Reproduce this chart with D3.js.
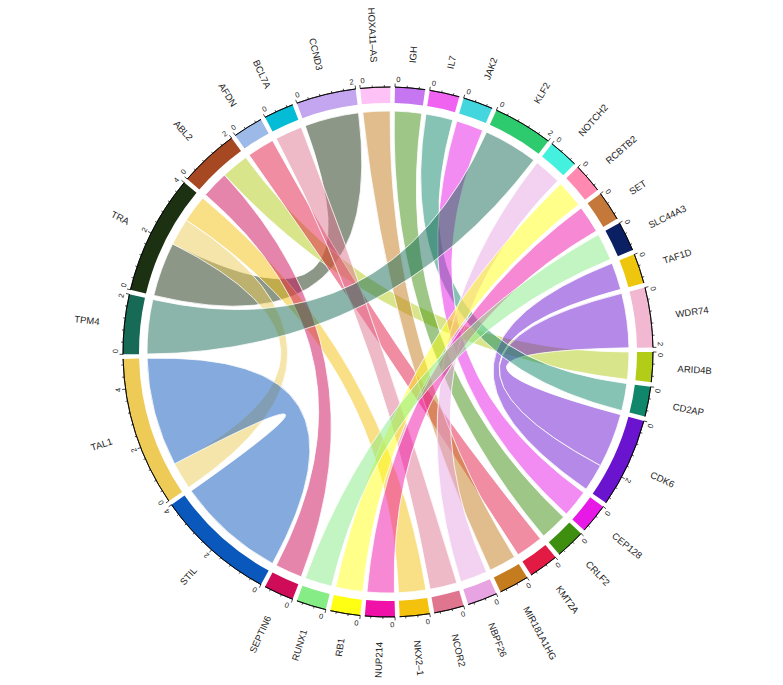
<!DOCTYPE html>
<html lang="en">
  <head>
    <meta charset="utf-8">
    <title>Gene fusion chord diagram</title>
    <script src="https://d3js.org/d3.v7.min.js"></script>
    <style>
      body { margin: 0; background: #fff; }
      .sector-label {
        font-family: "Liberation Sans", Arial, sans-serif;
        font-size: 9.5px;
        fill: #222;
      }
      .tick-label {
        font-family: "Liberation Sans", Arial, sans-serif;
        font-size: 7.5px;
        fill: #222;
      }
    </style>
  </head>
  <body>
    <svg width="783" height="685" id="chart"></svg>
    <script>
      // sectors in clockwise order, first one starts at 3 o'clock
      const sectors = ["ARID4B", "CD2AP", "CDK6", "CEP128", "CRLF2", "KMT2A", "MIR181A1HG",
        "NBPF26", "NCOR2", "NKX2\u20131", "NUP214", "RB1", "RUNX1", "SEPTIN6", "STIL", "TAL1",
        "TPM4", "TRA", "ABL2", "AFDN", "BCL7A", "CCND3", "HOXA11\u2013AS", "IGH", "IL7", "JAK2",
        "KLF2", "NOTCH2", "RCBTB2", "SET", "SLC44A3", "TAF1D", "WDR74"];

      const sectorColors = ["#B2CC17", "#10876A", "#6B14CF", "#E619E6", "#3E8F10", "#E21B45", "#C47C1E",
        "#E8A4E2", "#E07590", "#F4C20D", "#F012A8", "#FFFF14", "#86EC86", "#CE0C58", "#0B58BD", "#EDCB56",
        "#176B56", "#1C3012", "#A64822", "#9DB9E8", "#05BCD6", "#C4A6F0", "#FFC2F6", "#C676F0", "#F063F0",
        "#43D6DE", "#2ECB6E", "#44F0DE", "#FF89B0", "#C4783A", "#0B1F63", "#EFC60E", "#F2B8D2"];

      // links (chord colour = colour of the "from" sector)
      const linkFrom = ["TRA", "TAL1", "NKX2\u20131", "STIL", "SEPTIN6", "ARID4B", "CDK6", "CDK6",
        "CD2AP", "CEP128", "CRLF2", "KMT2A", "MIR181A1HG", "NBPF26", "NCOR2", "NUP214", "RB1",
        "RUNX1", "TPM4"];
      const linkTo = ["CCND3", "TRA", "TRA", "TAL1", "ABL2", "ABL2", "WDR74", "TAF1D",
        "IL7", "JAK2", "IGH", "AFDN", "HOXA11\u2013AS", "NOTCH2", "BCL7A", "SET", "RCBTB2",
        "SLC44A3", "KLF2"];
      const linkValue = [2, 1, 1, 4, 1, 1, 2, 1, 1, 1, 1, 1, 1, 1, 1, 1, 1, 1, 2];

      const cx = 388, cy = 352;
      const rOuter = 265, rInner = 249, rChord = 241, rLabel = 290;
      const gap = 1 * Math.PI / 180;

      const svg = d3.select("#chart");
      const g = svg.append("g").attr("transform", "translate(" + cx + "," + cy + ")");

      const color = d3.scaleOrdinal().domain(sectors).range(sectorColors);

      // sector sizes from the links
      const size = new Map(sectors.map(s => [s, 0]));
      linkFrom.forEach((f, i) => {
        size.set(f, size.get(f) + linkValue[i]);
        size.set(linkTo[i], size.get(linkTo[i]) + linkValue[i]);
      });
      const total = d3.sum(sectors, s => size.get(s));

      const unitScale = d3.scaleLinear()
          .domain([0, total])
          .range([0, 2 * Math.PI - sectors.length * gap]);

      // start offset (in units) for each sector
      const offset = new Map();
      let acc = 0;
      sectors.forEach(s => { offset.set(s, acc); acc += size.get(s); });

      // d3 angle: 0 at 12 o'clock, clockwise; our start is 3 o'clock
      const angle = (s, pos) => Math.PI / 2 + unitScale(offset.get(s) + pos) + sectors.indexOf(s) * gap;

      // chord ends
      const cursor = new Map(sectors.map(s => [s, 0]));
      const chords = linkFrom.map((f, i) => {
        const t = linkTo[i], v = linkValue[i];
        const src = {startAngle: angle(f, cursor.get(f)), endAngle: angle(f, cursor.get(f) + v)};
        cursor.set(f, cursor.get(f) + v);
        const tgt = {startAngle: angle(t, cursor.get(t)), endAngle: angle(t, cursor.get(t) + v)};
        cursor.set(t, cursor.get(t) + v);
        return {source: src, target: tgt, from: f};
      });

      const ribbon = d3.ribbon().radius(rChord);

      g.selectAll("path.chord")
          .data(chords)
          .enter()
          .append("path")
          .attr("class", "chord")
          .attr("d", ribbon)
          .attr("fill", d => color(d.from))
          .attr("fill-opacity", 0.5)
          .attr("stroke", "#fff")
          .attr("stroke-opacity", 0.8)
          .attr("stroke-width", 1);

      // outer track
      const trackArc = d3.arc()
          .innerRadius(rInner)
          .outerRadius(rOuter)
          .startAngle(s => angle(s, 0))
          .endAngle(s => angle(s, size.get(s)));

      g.selectAll("path.track")
          .data(sectors)
          .enter()
          .append("path")
          .attr("class", "track")
          .attr("d", trackArc)
          .attr("fill", s => color(s));

      // axis line on top of each block
      const axisArc = d3.arc()
          .innerRadius(rOuter)
          .outerRadius(rOuter)
          .startAngle(s => angle(s, 0))
          .endAngle(s => angle(s, size.get(s)));

      g.selectAll("path.axis")
          .data(sectors)
          .enter()
          .append("path")
          .attr("class", "axis")
          .attr("d", axisArc)
          .attr("fill", "none")
          .attr("stroke", "#000")
          .attr("stroke-width", 0.8);

      // ticks: major every 2, four minor ticks between
      const ticks = [];
      sectors.forEach(s => {
        const n = Math.floor(size.get(s) / 0.4 + 1e-6);
        d3.range(0, n + 1).forEach(k => {
          ticks.push({sector: s, value: k * 0.4, major: k % 5 === 0, size: size.get(s)});
        });
      });

      const px = (a, r) => r * Math.sin(a);
      const py = (a, r) => -r * Math.cos(a);

      g.selectAll("line.tick")
          .data(ticks)
          .enter()
          .append("line")
          .attr("class", "tick")
          .attr("x1", d => px(angle(d.sector, d.value), rOuter))
          .attr("y1", d => py(angle(d.sector, d.value), rOuter))
          .attr("x2", d => px(angle(d.sector, d.value), rOuter + (d.major ? 3.5 : 2)))
          .attr("y2", d => py(angle(d.sector, d.value), rOuter + (d.major ? 3.5 : 2)))
          .attr("stroke", "#000")
          .attr("stroke-width", 0.7);

      // labels at the sector edges are pushed inside the sector
      g.selectAll("text.tick-label")
          .data(ticks.filter(d => d.major))
          .enter()
          .append("text")
          .attr("class", "tick-label")
          .attr("text-anchor", d => d.value === 0 ? "start" : (Math.abs(d.value - d.size) < 1e-6 ? "end" : "middle"))
          .attr("dx", d => d.value === 0 ? 1 : (Math.abs(d.value - d.size) < 1e-6 ? -1 : 0))
          .attr("transform", d => {
            const a = angle(d.sector, d.value);
            return "translate(" + px(a, rOuter + 5) + "," + py(a, rOuter + 5) + ") rotate(" + (a * 180 / Math.PI) + ")";
          })
          .text(d => Math.round(d.value));

      // sector names, radial
      g.selectAll("text.sector-label")
          .data(sectors)
          .enter()
          .append("text")
          .attr("class", "sector-label")
          .attr("dominant-baseline", "central")
          .attr("text-anchor", s => {
            const a = (angle(s, size.get(s) / 2)) % (2 * Math.PI);
            return a < Math.PI ? "start" : "end";
          })
          .attr("transform", s => {
            const a = (angle(s, size.get(s) / 2)) % (2 * Math.PI);
            const deg = a * 180 / Math.PI;
            const rot = a < Math.PI ? deg - 90 : deg + 90;
            return "translate(" + px(a, rLabel) + "," + py(a, rLabel) + ") rotate(" + rot + ")";
          })
          .text(s => s);
    </script>
  </body>
</html>
